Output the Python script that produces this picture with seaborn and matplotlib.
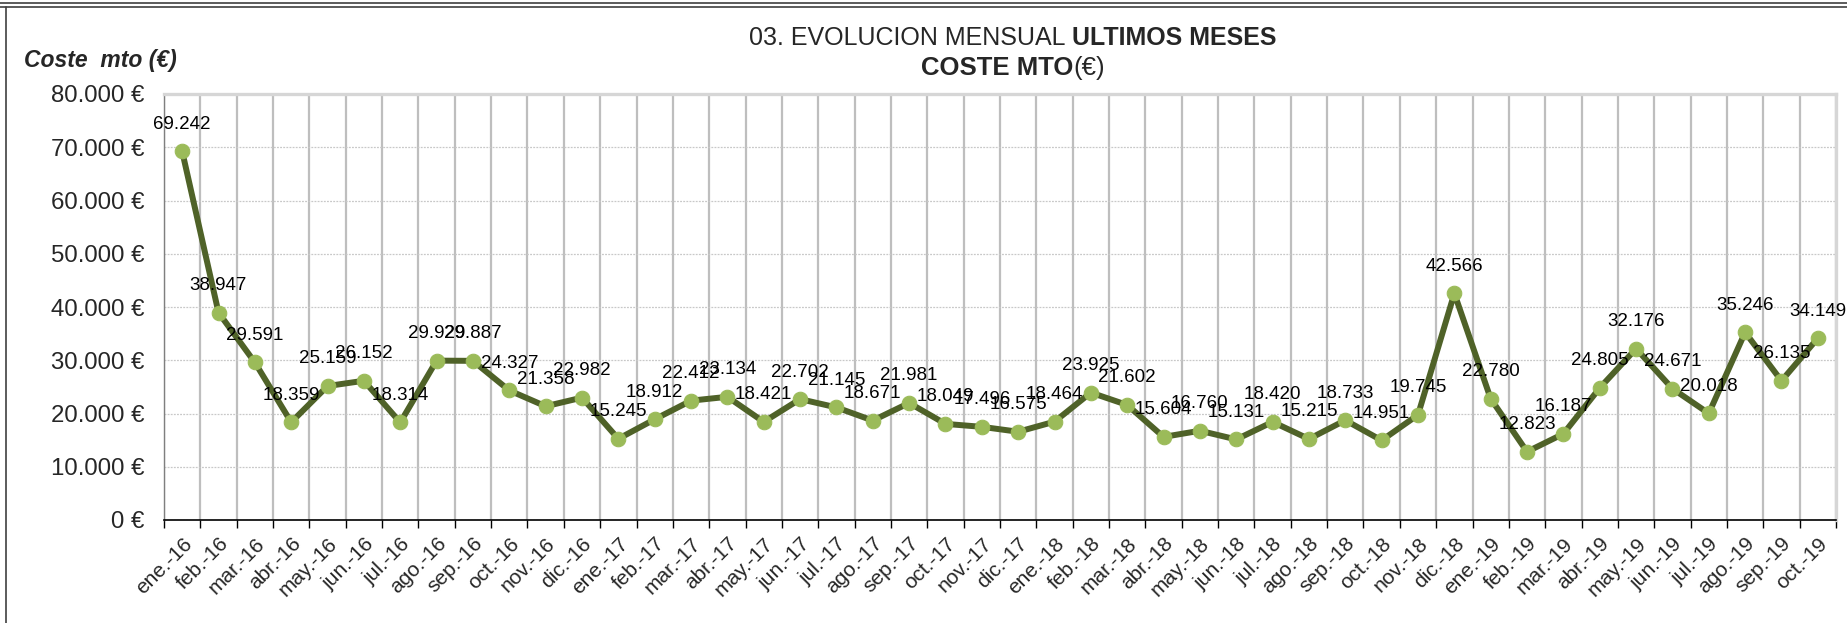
import matplotlib
matplotlib.use("Agg")
import matplotlib.pyplot as plt
from matplotlib.lines import Line2D
from matplotlib.ticker import FixedLocator, FuncFormatter
import pandas as pd
import seaborn as sns

# Monthly maintenance cost (EUR), Jan 2016 - Oct 2019
months = [
    "ene.-16", "feb.-16", "mar.-16", "abr.-16", "may.-16", "jun.-16",
    "jul.-16", "ago.-16", "sep.-16", "oct.-16", "nov.-16", "dic.-16",
    "ene.-17", "feb.-17", "mar.-17", "abr.-17", "may.-17", "jun.-17",
    "jul.-17", "ago.-17", "sep.-17", "oct.-17", "nov.-17", "dic.-17",
    "ene.-18", "feb.-18", "mar.-18", "abr.-18", "may.-18", "jun.-18",
    "jul.-18", "ago.-18", "sep.-18", "oct.-18", "nov.-18", "dic.-18",
    "ene.-19", "feb.-19", "mar.-19", "abr.-19", "may.-19", "jun.-19",
    "jul.-19", "ago.-19", "sep.-19", "oct.-19",
]
coste = [
    69242, 38947, 29591, 18359, 25159, 26152,
    18314, 29929, 29887, 24327, 21358, 22982,
    15245, 18912, 22412, 23134, 18421, 22702,
    21145, 18671, 21981, 18049, 17496, 16575,
    18464, 23925, 21602, 15604, 16760, 15131,
    18420, 15215, 18733, 14951, 19745, 42566,
    22780, 12823, 16187, 24805, 32176, 24671,
    20018, 35246, 26135, 34149,
]
y_ticks = [0, 10000, 20000, 30000, 40000, 50000, 60000, 70000, 80000]

LINE_C = "#4F6228"
MARK_C = "#9BBB59"
FONT = ["Liberation Sans", "DejaVu Sans"]

sns.set_theme(style="white")
plt.rcParams["font.family"] = FONT

W, H = 1847, 623
fig = plt.figure(figsize=(W / 100, H / 100), dpi=100)
ax = fig.add_axes([164 / W, 1 - 520 / H, (1836 - 164) / W, (520 - 94) / H])

df = pd.DataFrame({"mes": months, "coste": coste})
df["pos"] = range(len(df))

sns.lineplot(
    data=df, x="pos", y="coste", ax=ax, color=LINE_C, linewidth=4.3,
    marker="o", markersize=10.5, markerfacecolor=MARK_C,
    markeredgecolor=MARK_C, zorder=5,
)

n = len(months)
ax.set_xlim(-0.5, n - 0.5)
ax.set_ylim(0, 80000)

# category labels at the centres, grid and tick marks on the boundaries
ax.xaxis.set_major_locator(FixedLocator(list(range(n))))
ax.set_xticklabels(months, rotation=45, ha="right", va="top",
                   rotation_mode="anchor", fontsize=15)
ax.xaxis.set_minor_locator(FixedLocator([i - 0.5 for i in range(n + 1)]))
ax.tick_params(axis="x", which="major", length=0, pad=10)
ax.tick_params(axis="x", which="minor", length=6, width=1.0,
               color="black", direction="out", bottom=True)
ax.grid(True, axis="x", which="minor", color="#BEBEBE", linewidth=1.6,
        linestyle="-")

ax.yaxis.set_major_locator(FixedLocator(y_ticks))
ax.yaxis.set_major_formatter(
    FuncFormatter(lambda v, p: f"{int(v):,}".replace(",", ".") + " €"))
ax.tick_params(axis="y", length=0, pad=14, labelsize=17.3)
ax.grid(True, axis="y", which="major", color="#C8C8C8", linewidth=0.9,
        linestyle=(0, (1.5, 1)))
ax.set_axisbelow(True)

for side in ("top", "right"):
    ax.spines[side].set_color("#D6D6D6")
    ax.spines[side].set_linewidth(2.4)
ax.spines["left"].set_color("#7F7F7F")
ax.spines["left"].set_linewidth(1.0)
ax.spines["bottom"].set_color("black")
ax.spines["bottom"].set_linewidth(1.2)

ax.set_xlabel("")
ax.set_ylabel("")

# value labels above each point
for i, v in enumerate(coste):
    ax.annotate(f"{v:,}".replace(",", "."), (i, v), xytext=(0, 19.5),
                textcoords="offset points", ha="center", va="center",
                fontsize=13.5, color="black", zorder=6)

# axis caption
fig.text(24 / W, 1 - 61 / H, "Coste  mto (€)", fontsize=16.5,
         fontweight="bold", fontstyle="italic", ha="left", va="center")


def rich_line(pieces, xc, yc, size):
    renderer = fig.canvas.get_renderer()
    texts = [fig.text(0, yc, s, fontweight=w, fontsize=size,
                      ha="left", va="center") for s, w in pieces]
    widths = [t.get_window_extent(renderer).width for t in texts]
    x = xc - sum(widths) / 2
    for t, wd in zip(texts, widths):
        t.set_x(x / W)
        x += wd


rich_line([("03. EVOLUCION MENSUAL ", "normal"), ("ULTIMOS MESES", "bold")],
          1013, 1 - 38 / H, 18)
rich_line([("COSTE MTO", "bold"), ("(€)", "normal")], 1013, 1 - 68 / H, 18.5)

# surrounding frame
for y in (3, 7):
    fig.add_artist(Line2D([0, 1], [1 - y / H, 1 - y / H], color="#404040",
                          linewidth=1.2, transform=fig.transFigure))
fig.add_artist(Line2D([6 / W, 6 / W], [0, 1 - 7 / H], color="#404040",
                      linewidth=1.2, transform=fig.transFigure))

fig.savefig("out.png", dpi=100)
